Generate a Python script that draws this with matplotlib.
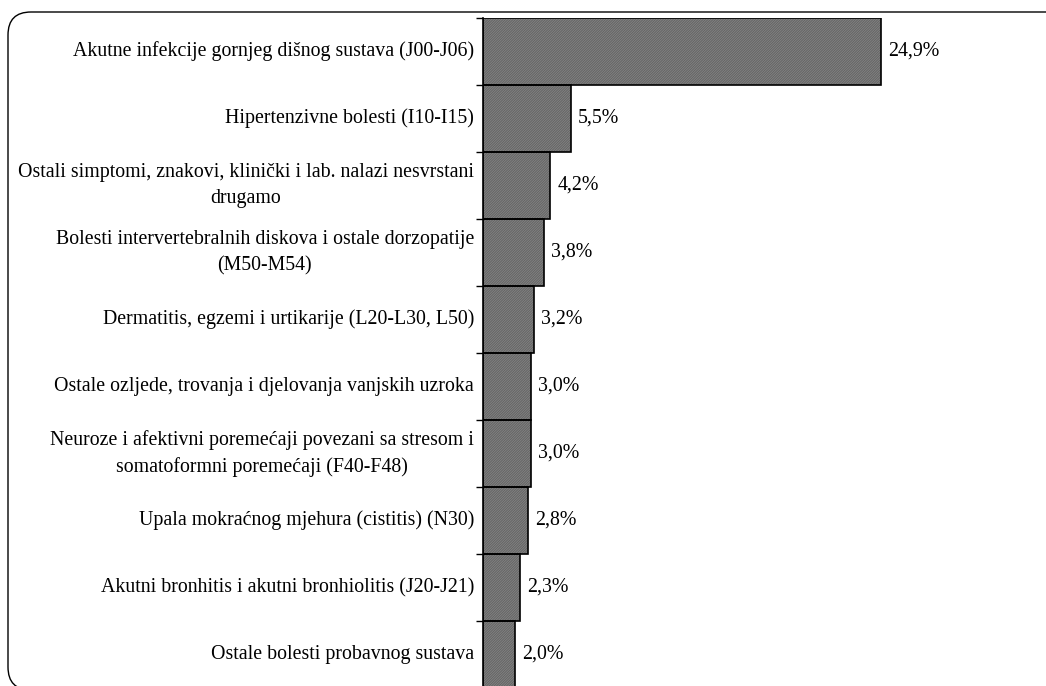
import matplotlib.pyplot as plt
from matplotlib.patches import FancyBboxPatch
import numpy as np

plt.rcParams['font.family'] = ['Liberation Serif', 'DejaVu Serif']
plt.rcParams['hatch.linewidth'] = 0.45

categories = [
    'Akutne infekcije gornjeg dišnog sustava (J00-J06)',
    'Hipertenzivne bolesti (I10-I15)',
    'Ostali simptomi, znakovi, klinički i lab. nalazi nesvrstani\ndrugamo',
    'Bolesti intervertebralnih diskova i ostale dorzopatije\n(M50-M54)',
    'Dermatitis, egzemi i urtikarije (L20-L30, L50)',
    'Ostale ozljede, trovanja i djelovanja vanjskih uzroka',
    'Neuroze i afektivni poremećaji povezani sa stresom i\nsomatoformni poremećaji (F40-F48)',
    'Upala mokraćnog mjehura (cistitis) (N30)',
    'Akutni bronhitis i akutni bronhiolitis (J20-J21)',
    'Ostale bolesti probavnog sustava',
]
values = [24.9, 5.5, 4.2, 3.8, 3.2, 3.0, 3.0, 2.8, 2.3, 2.0]
value_labels = ['24,9%', '5,5%', '4,2%', '3,8%', '3,2%', '3,0%', '3,0%', '2,8%', '2,3%', '2,0%']

W, H = 1046, 686
fig = plt.figure(figsize=(W / 100, H / 100), dpi=100)

# rounded frame around the chart (runs off right and bottom)
frame = FancyBboxPatch((8 / W, (H - 690) / H), 1080 / W, 678 / H,
                       boxstyle='round,pad=0,rounding_size=0.022',
                       transform=fig.transFigure, fill=False,
                       edgecolor='black', linewidth=1.0, clip_on=False,
                       mutation_aspect=W / H)
fig.patches.append(frame)

# axes: x=483..963 px, y=18..688 px
left, right = 483 / W, 963 / W
top, bottom = 1 - 18 / H, 1 - 688 / H
ax = fig.add_axes([left, bottom, right - left, top - bottom])

n = len(values)
y = np.arange(n)
ax.barh(y, values, height=1.0, color='#9a9a9a', edgecolor='#505050',
        hatch='/' * 20, linewidth=0)
ax.barh(y, values, height=1.0, fill=False, edgecolor='black', linewidth=1.2)

for yi, v, lab in zip(y, values, value_labels):
    ax.text(v + 0.45, yi, lab, ha='left', va='center', fontsize=14.3)

ax.set_xlim(0, 30)
ax.set_ylim(n - 0.5, -0.5)
ax.set_yticks(np.arange(n + 1) - 0.5)
ax.set_yticklabels([])
ax.tick_params(axis='y', direction='out', length=5, width=1)
ax.set_xticks([])
for s in ['top', 'right', 'bottom']:
    ax.spines[s].set_visible(False)
ax.spines['left'].set_linewidth(1.2)
ax.patch.set_visible(False)

for yi, cat in zip(y, categories):
    ax.annotate(cat, xy=(0, yi), xycoords=('axes fraction', 'data'),
                xytext=(-9, 0), textcoords='offset pixels',
                ha='right', va='center', multialignment='center',
                fontsize=14.3, linespacing=1.5)

fig.savefig('out.png', dpi=100)
